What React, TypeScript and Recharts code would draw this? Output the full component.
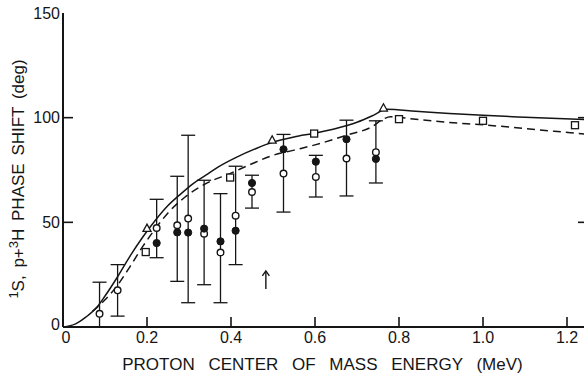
import React from 'react';
import { ComposedChart, XAxis, YAxis, Line, Scatter, ErrorBar } from 'recharts';

// ---- Data ----
const xTicks = [0, 0.2, 0.4, 0.6, 0.8, 1.0, 1.2];
const xTickLabels = ['0', '0.2', '0.4', '0.6', '0.8', '1.0', '1.2'];
const yTicks = [0, 50, 100, 150];
const yTickLabels = ['0', '50', '100', '150'];

const solidX = [0, 0.03, 0.055, 0.08, 0.1, 0.13, 0.16, 0.19, 0.22, 0.25, 0.28, 0.31, 0.34, 0.37, 0.41, 0.46, 0.5, 0.55, 0.6, 0.65, 0.7, 0.74, 0.77, 0.84, 0.92, 1.0, 1.1, 1.25];
const solidY = [0, 1.5, 4.8, 9.3, 14.8, 24, 34, 43, 51, 58, 63.5, 68.5, 72.5, 76.5, 80.8, 85.3, 88.3, 90.8, 92.6, 94.8, 97.8, 101.2, 104, 103.1, 102, 101.1, 100.2, 99];

const dashedX = [0.07, 0.1, 0.13, 0.16, 0.19, 0.22, 0.25, 0.29, 0.34, 0.4, 0.45, 0.5, 0.55, 0.6, 0.675, 0.735, 0.765, 0.78, 0.84, 0.92, 1.0, 1.1, 1.25];
const dashedY = [7.5, 13, 20, 29, 38.5, 47, 54.5, 62, 68.5, 73.5, 78, 82, 84.5, 87, 91.6, 95.6, 99.6, 100.4, 99.2, 97.7, 96.6, 94.8, 92];

const openX = [0.087, 0.13, 0.223, 0.272, 0.298, 0.336, 0.375, 0.411, 0.45, 0.525, 0.602, 0.675, 0.745];
const openY = [6.3, 17.5, 47.3, 48.6, 51.8, 44.6, 35.6, 53.2, 64.5, 73.3, 71.7, 80.5, 83.5];
const openErrLow = [6.3, 12.3, 14.2, 26.8, 40.2, 24.4, 24, 23.4, 7.7, 18.4, 9.6, 17.9, 14.7];
const openErrHigh = [15.1, 12.3, 13.7, 23.4, 39.8, 25.5, 28.1, 23.6, 8, 18.7, 10.3, 18.3, 15];

const filledX = [0.223, 0.272, 0.298, 0.336, 0.375, 0.411, 0.45, 0.525, 0.602, 0.675, 0.745];
const filledY = [40.1, 45.2, 45.1, 47.0, 40.9, 46.0, 68.8, 84.9, 79.0, 89.7, 80.3];

const triangleX = [0.2, 0.498, 0.763];
const triangleY = [47, 89.2, 104.5];

const squareX = [0.197, 0.398, 0.598, 0.8, 1.0, 1.219];
const squareY = [35.8, 71.4, 92.4, 99.3, 98.5, 96.4];

const arrowX = [0.483];
const arrowY = [22.5];

// ---- Build tables ----
const zip = (xs: number[], ys: number[]) => xs.map((x, i) => ({ x, y: ys[i] }));
const solidData = zip(solidX, solidY);
const dashedData = zip(dashedX, dashedY);
const openData = openX.map((x, i) => ({ x, y: openY[i], err: [openErrLow[i], openErrHigh[i]] }));
const filledData = zip(filledX, filledY);
const triangleData = zip(triangleX, triangleY);
const squareData = zip(squareX, squareY);
const arrowData = zip(arrowX, arrowY);

const INK = '#151515';
const FONT = '"Liberation Sans", Arial, Helvetica, sans-serif';

const BottomTick = (props: any) => {
  const { x, y, index, payload } = props;
  const axisY = y - 5;
  return (
    <g>
      {payload.value > 0 && (
        <line x1={x} x2={x} y1={axisY} y2={axisY - 10} stroke={INK} strokeWidth={1.6} />
      )}
      <text x={x + (index === 0 ? 3 : 0)} y={y} dy="0.71em" textAnchor="middle" fontSize={16} fill={INK} fontFamily={FONT}>
        {xTickLabels[index]}
      </text>
    </g>
  );
};

const TopTick = (props: any) => {
  const { x, y, payload } = props;
  if (!(payload.value > 0)) return <g />;
  return <line x1={x} x2={x} y1={y} y2={y + 10} stroke={INK} strokeWidth={1.6} />;
};

const LeftTick = (props: any) => {
  const { x, y, index, payload } = props;
  const axisX = x + 3;
  const inner = payload.value > 0 && payload.value < 150;
  return (
    <g>
      {inner && <line x1={axisX} x2={axisX + 10} y1={y} y2={y} stroke={INK} strokeWidth={1.6} />}
      <text x={x} y={y} dy={index === 0 ? '0.2em' : '0.36em'} textAnchor="end" fontSize={16} fill={INK} fontFamily={FONT}>
        {yTickLabels[index]}
      </text>
    </g>
  );
};

const RightTick = (props: any) => {
  const { x, y, payload } = props;
  const inner = payload.value > 0 && payload.value < 150;
  if (!inner) return <g />;
  return <line x1={x} x2={x - 10} y1={y} y2={y} stroke={INK} strokeWidth={1.6} />;
};

const XTitle = (props: any) => {
  const vb = props.viewBox || { x: 63, y: 327, width: 525, height: 50 };
  return (
    <text x={vb.x + vb.width / 2 - 3} y={vb.y + 43} textAnchor="middle" fontSize={17} fill={INK} fontFamily={FONT} style={{ wordSpacing: '9px' }}>
      PROTON CENTER OF MASS ENERGY (MeV)
    </text>
  );
};

const YTitle = (props: any) => {
  const cx = 24;
  const cy = 179;
  return (
    <text x={cx} y={cy} transform={`rotate(-90 ${cx} ${cy})`} textAnchor="middle" fontSize={17} fill={INK} fontFamily={FONT} style={{ wordSpacing: '3px' }}>
      <tspan fontSize={13} dy="-6">1</tspan>
      <tspan dy="6">S, p+</tspan>
      <tspan fontSize={13} dy="-6">3</tspan>
      <tspan dy="6">H PHASE SHIFT (deg)</tspan>
    </text>
  );
};

const OpenCircle = (p: any) => <circle cx={p.cx} cy={p.cy} r={3.3} fill="#fff" stroke={INK} strokeWidth={1.4} />;
const FilledCircle = (p: any) => <circle cx={p.cx} cy={p.cy} r={3.6} fill={INK} stroke={INK} strokeWidth={1} />;
const Triangle = (p: any) => (
  <path d={`M${p.cx},${p.cy - 4.5} L${p.cx + 4},${p.cy + 2.8} L${p.cx - 4},${p.cy + 2.8} Z`} fill="#fff" stroke={INK} strokeWidth={1.3} />
);
const Square = (p: any) => (
  <rect x={p.cx - 3.5} y={p.cy - 3.5} width={7} height={7} fill="#fff" stroke={INK} strokeWidth={1.3} />
);
const Arrow = (p: any) => (
  <g stroke={INK} strokeWidth={1.4} fill="none">
    <line x1={p.cx} x2={p.cx} y1={p.cy + 9} y2={p.cy - 9} />
    <path d={`M${p.cx - 3.5},${p.cy - 4} L${p.cx},${p.cy - 9} L${p.cx + 3.5},${p.cy - 4}`} />
  </g>
);

export default function App() {
  return (
    <div style={{ position: 'absolute', left: 0, top: 0, width: 584, height: 377, overflow: 'hidden', background: '#fff' }}>
      <ComposedChart width={600} height={377} margin={{ top: 13, right: 0, bottom: 0, left: 0 }}>
        <XAxis
          xAxisId="b"
          type="number"
          dataKey="x"
          domain={[0, 1.25]}
          ticks={xTicks}
          allowDataOverflow
          height={50}
          tickSize={0}
          tickMargin={5}
          tickLine={false}
          axisLine={{ stroke: INK, strokeWidth: 2 }}
          tick={<BottomTick />}
          label={<XTitle />}
        />
        <XAxis
          xAxisId="t"
          orientation="top"
          type="number"
          dataKey="x"
          domain={[0, 1.25]}
          ticks={xTicks}
          allowDataOverflow
          height={0}
          tickSize={0}
          tickMargin={0}
          tickLine={false}
          axisLine={{ stroke: INK, strokeWidth: 2 }}
          tick={<TopTick />}
        />
        <YAxis
          yAxisId="l"
          type="number"
          domain={[0, 150]}
          ticks={yTicks}
          allowDataOverflow
          width={63}
          tickSize={0}
          tickMargin={3}
          tickLine={false}
          axisLine={{ stroke: INK, strokeWidth: 2 }}
          tick={<LeftTick />}
          label={<YTitle />}
        />
        <YAxis
          yAxisId="r"
          orientation="right"
          type="number"
          domain={[0, 150]}
          ticks={yTicks}
          allowDataOverflow
          width={12}
          tickSize={0}
          tickMargin={0}
          tickLine={false}
          axisLine={{ stroke: INK, strokeWidth: 2 }}
          tick={<RightTick />}
        />
        <Line xAxisId="b" yAxisId="l" data={solidData} dataKey="y" type="monotone" stroke={INK} strokeWidth={1.5} dot={false} activeDot={false} isAnimationActive={false} />
        <Line xAxisId="b" yAxisId="l" data={dashedData} dataKey="y" type="monotone" stroke={INK} strokeWidth={1.5} strokeDasharray="8 5" dot={false} activeDot={false} isAnimationActive={false} />
        <Scatter xAxisId="b" yAxisId="l" data={openData} dataKey="y" shape={<OpenCircle />} isAnimationActive={false}>
          <ErrorBar dataKey="err" direction="y" width={7} stroke={INK} strokeWidth={1.3} />
        </Scatter>
        <Scatter xAxisId="b" yAxisId="l" data={filledData} dataKey="y" shape={<FilledCircle />} isAnimationActive={false} />
        <Scatter xAxisId="b" yAxisId="l" data={triangleData} dataKey="y" shape={<Triangle />} isAnimationActive={false} />
        <Scatter xAxisId="b" yAxisId="l" data={squareData} dataKey="y" shape={<Square />} isAnimationActive={false} />
        <Scatter xAxisId="b" yAxisId="l" data={arrowData} dataKey="y" shape={<Arrow />} isAnimationActive={false} />
      </ComposedChart>
    </div>
  );
}
